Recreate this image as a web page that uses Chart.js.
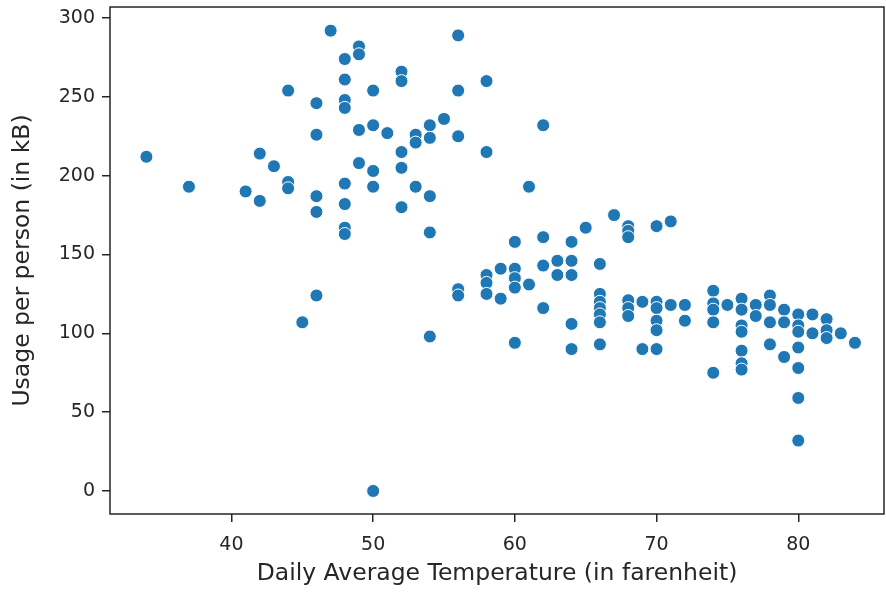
<!DOCTYPE html>
<html>
<head>
<meta charset="utf-8">
<title>Usage vs temperature</title>
<script src="https://cdn.jsdelivr.net/npm/chart.js@4.4.1/dist/chart.umd.min.js"></script>
<style>
    body { margin: 0; background: #fff; }
    canvas { display: block; }
</style>
</head>
<body>
<canvas id="usageChart" width="886" height="592"></canvas>
<script>
// one entry per day: temperature (F) and usage per person (kB)
const temps = [
    34, 37, 41, 42, 42, 43, 44, 44, 44, 45,
    46, 46, 46, 46, 46, 47,
    48, 48, 48, 48, 48, 48, 48, 48,
    49, 49, 49, 49,
    50, 50, 50, 50, 50, 51,
    52, 52, 52, 52, 52, 53, 53, 53,
    54, 54, 54, 54, 54, 55,
    56, 56, 56, 56, 56,
    58, 58, 58, 58, 58, 59, 59,
    60, 60, 60, 60, 60, 61, 61,
    62, 62, 62, 62, 63, 63,
    64, 64, 64, 64, 64, 65,
    66, 66, 66, 66, 66, 66, 66, 67,
    68, 68, 68, 68, 68, 68, 69, 69,
    70, 70, 70, 70, 70, 70, 71, 71, 72, 72,
    74, 74, 74, 74, 74, 75,
    76, 76, 76, 76, 76, 76, 76, 77, 77,
    78, 78, 78, 78, 79, 79, 79,
    80, 80, 80, 80, 80, 80, 80,
    81, 81, 82, 82, 82, 83, 84
];
const usage = [
    212, 193, 190, 214, 184, 206, 254, 196, 192, 107,
    246, 226, 187, 177, 124, 292,
    274, 261, 248, 243, 195, 182, 167, 163,
    282, 277, 229, 208,
    254, 232, 203, 193, 0, 227,
    266, 260, 215, 205, 180, 226, 221, 193,
    232, 224, 187, 164, 98, 236,
    289, 254, 225, 128, 124,
    260, 215, 137, 132, 125, 141, 122,
    158, 141, 135, 129, 94, 193, 131,
    232, 161, 143, 116, 146, 137,
    158, 146, 137, 106, 90, 167,
    144, 125, 120, 116, 112, 107, 93, 175,
    168, 165, 161, 121, 116, 111, 120, 90,
    168, 120, 116, 108, 102, 90, 171, 118, 118, 108,
    127, 119, 115, 107, 75, 118,
    122, 115, 105, 101, 89, 81, 77, 118, 111,
    124, 118, 107, 93, 115, 107, 85,
    112, 105, 101, 91, 78, 59, 32,
    112, 100, 109, 102, 97, 100, 94
];
const xTicks = [40, 50, 60, 70, 80];
const yTicks = [0, 50, 100, 150, 200, 250, 300];

const ink = "#262626";

// matplotlib style box around the axes
const frame = {
    id: "frame",
    afterDraw(chart) {
        const a = chart.chartArea;
        const ctx = chart.ctx;
        ctx.save();
        ctx.strokeStyle = ink;
        ctx.lineWidth = 1.5;
        ctx.strokeRect(a.left, a.top, a.right - a.left, a.bottom - a.top);
        ctx.restore();
    }
};

let points = temps.map((t, i) => ({ x: t, y: usage[i] }));

new Chart(document.getElementById("usageChart"), {
    type: "scatter",
    data: {
        datasets: [{
            data: points,
            backgroundColor: "#1f77b4",
            borderColor: "#ffffff",
            borderWidth: 1,
            pointRadius: 6.5,
            pointHoverRadius: 6.5
        }]
    },
    options: {
        responsive: false,
        animation: false,
        layout: { autoPadding: false, padding: { left: 0, right: 2, top: 7, bottom: 0 } },
        plugins: { legend: { display: false }, tooltip: { enabled: false } },
        scales: {
            x: {
                type: "linear",
                min: 31.43,
                max: 86.05,
                afterBuildTicks: (s) => { s.ticks = xTicks.map(v => ({ value: v })); },
                afterFit: (s) => {
                    s.height = 78;
                    s.paddingLeft = 0;
                    s.paddingRight = 0;
                },
                grid: { drawOnChartArea: false, drawTicks: true, tickLength: 8, color: ink, lineWidth: 1.5 },
                border: { display: false },
                ticks: { color: ink, padding: 12, font: { family: "DejaVu Sans", size: 19 } },
                title: {
                    display: true,
                    text: "Daily Average Temperature (in farenheit)",
                    color: ink,
                    font: { family: "DejaVu Sans", size: 23.5 },
                    padding: { top: 0, bottom: 4 }
                }
            },
            y: {
                min: -14.6,
                max: 307,
                afterBuildTicks: (s) => { s.ticks = yTicks.map(v => ({ value: v })); },
                afterFit: (s) => {
                    s.width = 110;
                    s.paddingTop = 0;
                    s.paddingBottom = 0;
                },
                grid: { drawOnChartArea: false, drawTicks: true, tickLength: 8, color: ink, lineWidth: 1.5 },
                border: { display: false },
                ticks: { color: ink, padding: 7, font: { family: "DejaVu Sans", size: 19 } },
                title: {
                    display: true,
                    text: "Usage per person (in kB)",
                    color: ink,
                    font: { family: "DejaVu Sans", size: 23.5 },
                    padding: { top: 9, bottom: 0 }
                }
            }
        }
    },
    plugins: [frame]
});
</script>
</body>
</html>
